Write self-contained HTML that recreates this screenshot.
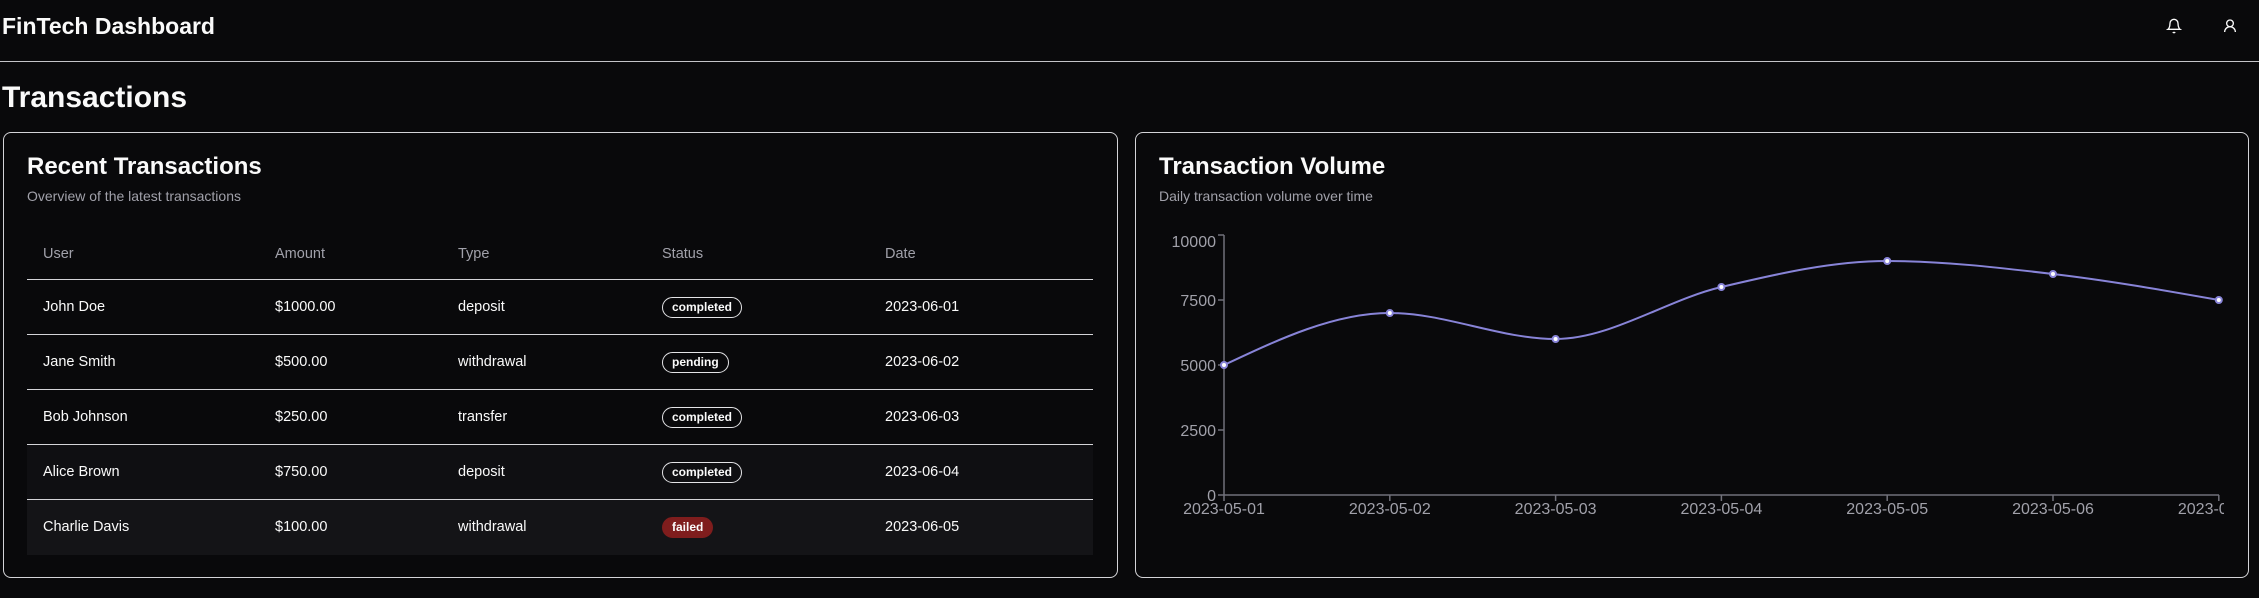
<!DOCTYPE html>
<html><head><meta charset="utf-8"><style>
*{box-sizing:border-box;margin:0;padding:0}
body{width:2259px;height:598px;background:#09090b;color:#fafafa;font-family:"Liberation Sans",sans-serif;position:relative;overflow:hidden}
.abs{position:absolute}
.hdr{left:0;top:0;width:2259px;height:62px;border-bottom:1.5px solid #c4c4c8}
.card{border:1.5px solid #d4d4d8;border-radius:8px;top:132px;height:446px}
.t{white-space:nowrap}
.row{left:27px;width:1066px;height:55px;border-bottom:1.5px solid #d4d4d8}
.cell{position:absolute;top:0;line-height:55px;font-size:14.5px;color:#fafafa}
.badge{position:absolute;top:17px;height:21px;line-height:18px;border:1.5px solid #e4e4e7;border-radius:11px;font-size:12px;font-weight:bold;padding:0 9px}
</style></head><body>
<div class="abs hdr"></div>
<div class="abs t" style="left:2px;top:13px;font-size:23px;font-weight:bold">FinTech Dashboard</div>
<svg class="abs" style="left:2166px;top:18px" width="16" height="16" viewBox="0 0 24 24" fill="none" stroke="#fafafa" stroke-width="2"><path d="M6 8a6 6 0 0 1 12 0c0 7 3 9 3 9H3s3-2 3-9"/><path d="M10.3 21a1.94 1.94 0 0 0 3.4 0"/></svg>
<svg class="abs" style="left:2222px;top:18px" width="16" height="16" viewBox="0 0 24 24" fill="none" stroke="#fafafa" stroke-width="2"><circle cx="12" cy="8" r="5"/><path d="M20 21a8 8 0 0 0-16 0"/></svg>
<div class="abs t" style="left:2px;top:81px;font-size:30px;font-weight:bold">Transactions</div>

<div class="abs card" style="left:3px;width:1115px"></div>
<div class="abs t" style="left:27px;top:153px;font-size:24px;font-weight:bold">Recent Transactions</div>
<div class="abs t" style="left:27px;top:188px;font-size:14px;color:#a1a1aa">Overview of the latest transactions</div>

<div class="abs row" style="top:226px;height:54px">
 <div class="cell" style="left:16px;line-height:56px;color:#a1a1aa">User</div>
 <div class="cell" style="left:248px;line-height:56px;color:#a1a1aa">Amount</div>
 <div class="cell" style="left:431px;line-height:56px;color:#a1a1aa">Type</div>
 <div class="cell" style="left:635px;line-height:56px;color:#a1a1aa">Status</div>
 <div class="cell" style="left:858px;line-height:56px;color:#a1a1aa">Date</div>
</div>
<div class="abs row" style="top:280px">
 <div class="cell" style="left:16px">John Doe</div><div class="cell" style="left:248px">$1000.00</div><div class="cell" style="left:431px">deposit</div><div class="badge" style="left:635px">completed</div><div class="cell" style="left:858px">2023-06-01</div></div>
<div class="abs row" style="top:335px">
 <div class="cell" style="left:16px">Jane Smith</div><div class="cell" style="left:248px">$500.00</div><div class="cell" style="left:431px">withdrawal</div><div class="badge" style="left:635px">pending</div><div class="cell" style="left:858px">2023-06-02</div></div>
<div class="abs row" style="top:390px">
 <div class="cell" style="left:16px">Bob Johnson</div><div class="cell" style="left:248px">$250.00</div><div class="cell" style="left:431px">transfer</div><div class="badge" style="left:635px">completed</div><div class="cell" style="left:858px">2023-06-03</div></div>
<div class="abs row" style="top:445px;background:#0f0f12">
 <div class="cell" style="left:16px">Alice Brown</div><div class="cell" style="left:248px">$750.00</div><div class="cell" style="left:431px">deposit</div><div class="badge" style="left:635px">completed</div><div class="cell" style="left:858px">2023-06-04</div></div>
<div class="abs row" style="top:500px;background:#141417;border-bottom:none">
 <div class="cell" style="left:16px">Charlie Davis</div><div class="cell" style="left:248px">$100.00</div><div class="cell" style="left:431px">withdrawal</div><div class="badge" style="left:635px;background:#7f1d1d;border-color:#7f1d1d">failed</div><div class="cell" style="left:858px">2023-06-05</div></div>

<div class="abs card" style="left:1135px;width:1114px"></div>
<div class="abs t" style="left:1159px;top:153px;font-size:24px;font-weight:bold">Transaction Volume</div>
<div class="abs t" style="left:1159px;top:188px;font-size:14px;color:#a1a1aa">Daily transaction volume over time</div>

<svg class="abs" style="left:0;top:0" width="2224" height="598" font-family="Liberation Sans, sans-serif" font-size="16" fill="#a1a1aa">
 <g stroke="#71717a" stroke-width="1.5">
  <line x1="1224" y1="235" x2="1224" y2="495"/>
  <line x1="1224" y1="495" x2="2219" y2="495"/>
  <line x1="1218" y1="235" x2="1224" y2="235"/><line x1="1218" y1="300" x2="1224" y2="300"/><line x1="1218" y1="365" x2="1224" y2="365"/><line x1="1218" y1="430" x2="1224" y2="430"/><line x1="1218" y1="495" x2="1224" y2="495"/>
  <g id="xt"></g>
 </g>
 <g text-anchor="end">
  <text x="1216" y="247">10000</text><text x="1216" y="306">7500</text><text x="1216" y="371">5000</text><text x="1216" y="436">2500</text><text x="1216" y="501">0</text>
 </g>
 <g id="xl" text-anchor="middle"></g>
 <path id="ln" fill="none" stroke="#8884d8" stroke-width="2"/>
 <g id="dots"></g>
</svg>
<script>
var vals=[5000,7000,6000,8000,9000,8500,7500],labels=["2023-05-01","2023-05-02","2023-05-03","2023-05-04","2023-05-05","2023-05-06","2023-05-07"];
var xs=vals.map(function(v,i){return 1224+165.8*i}),ys=vals.map(function(v){return 495-v*0.026});
var n=xs.length,h=165.8,s=[],m=[];
for(var i=0;i<n-1;i++)s.push((ys[i+1]-ys[i])/h);
for(i=1;i<n-1;i++){var a=s[i-1],b=s[i];m[i]=(a*b<=0)?0:(Math.sign(a)+Math.sign(b))*Math.min(Math.abs(a),Math.abs(b),0.5*Math.abs((a+b)/2))}
m[0]=(3*s[0]-m[1])/2;m[n-1]=(3*s[n-2]-m[n-2])/2;
var d="M"+xs[0]+","+ys[0];
for(i=0;i<n-1;i++){var dx=h/3;d+=" C"+(xs[i]+dx)+","+(ys[i]+m[i]*dx)+" "+(xs[i+1]-dx)+","+(ys[i+1]-m[i+1]*dx)+" "+xs[i+1]+","+ys[i+1]}
document.getElementById("ln").setAttribute("d",d);
var NS="http://www.w3.org/2000/svg",g=document.getElementById("dots"),xl=document.getElementById("xl"),xt=document.getElementById("xt");
for(i=0;i<n;i++){var c=document.createElementNS(NS,"circle");c.setAttribute("cx",xs[i]);c.setAttribute("cy",ys[i]);c.setAttribute("r",3);c.setAttribute("fill","#fff");c.setAttribute("stroke","#8884d8");c.setAttribute("stroke-width",2);g.appendChild(c);
var t=document.createElementNS(NS,"text");t.setAttribute("x",xs[i]);t.setAttribute("y",514);t.textContent=labels[i];xl.appendChild(t);
var l=document.createElementNS(NS,"line");l.setAttribute("x1",xs[i]);l.setAttribute("x2",xs[i]);l.setAttribute("y1",495);l.setAttribute("y2",501);xt.appendChild(l);}
</script>
</body></html>
